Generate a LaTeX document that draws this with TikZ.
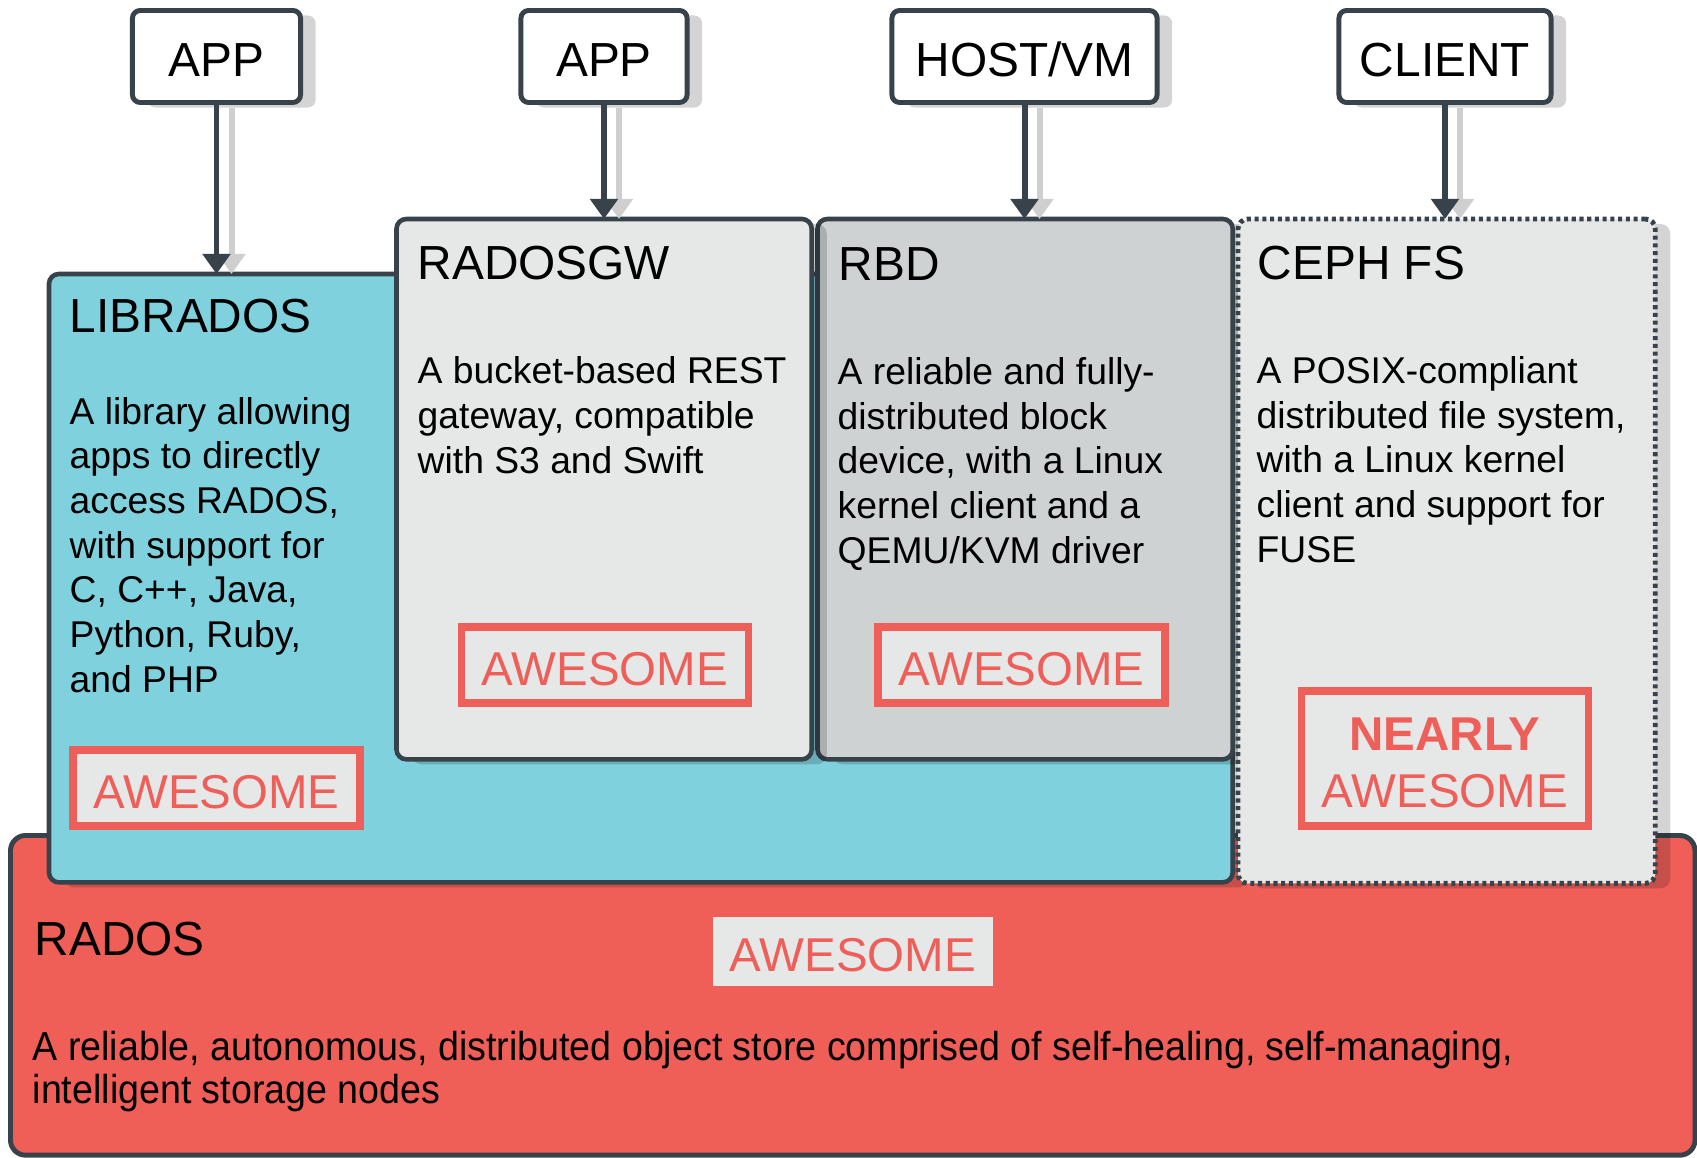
\documentclass[tikz,border=0pt]{standalone}
\usepackage{fontspec}
\setmainfont{Liberation Sans}
\newfontfamily\narrowfont[FakeStretch=0.93]{Liberation Sans}
\usetikzlibrary{positioning, shadows, arrows.meta}

\definecolor{edgedark}{HTML}{38424B}
\definecolor{libcyan}{HTML}{7FD2DD}
\definecolor{paleg}{HTML}{E6E7E7}
\definecolor{rbdgray}{HTML}{CED2D3}
\definecolor{radosred}{HTML}{F05E58}
\definecolor{okred}{HTML}{EF5F59}
\definecolor{shadowg}{HTML}{CFCFCF}

\begin{document}
\begin{tikzpicture}[
    x=0.01cm, y=-0.01cm,
    softshadow/.style={drop shadow={shadow xshift=0.15cm, shadow yshift=-0.05cm, fill=black, opacity=0.17}},
    layer/.style={rectangle, draw=edgedark, line width=1.3pt, rounded corners=2.8pt, outer sep=0pt, inner sep=0pt, anchor=north west},
    entry/.style={rectangle, draw=edgedark, line width=1.4pt, fill=white, rounded corners=2.2pt, minimum height=0.92cm, outer sep=0pt, text height=11.2pt, text depth=0pt, font=\fontsize{13.6pt}{16pt}\selectfont, softshadow},
    title/.style={anchor=base west, inner sep=0pt, font=\fontsize{13.6pt}{16pt}\selectfont},
    body/.style={anchor=base west, inner sep=0pt, align=left, font=\fontsize{10.6pt}{12.7pt}\selectfont},
    redword/.style={rectangle, fill=paleg, text=okred, text height=11.4pt, text depth=0pt, font=\fontsize{13.5pt}{16.2pt}\selectfont},
    verdict/.style={redword, draw=okred, line width=2.1pt, minimum width=2.87cm, minimum height=0.76cm},
    flow/.style={draw=edgedark, line width=1.7pt, -{Triangle[width=7.7pt,length=5.7pt]}},
    flowshadow/.style={draw=shadowg, line width=1.7pt, -{Triangle[width=7.7pt,length=5.7pt]}}
]
\useasboundingbox (0,0) rectangle (1697,1158);

% storage layers
\node[layer, fill=radosred, rounded corners=4.3pt, line width=1.4pt, minimum width=16.835cm, minimum height=3.195cm] (rados) at (10.5,835.5) {};
\node[layer, fill=libcyan, softshadow, minimum width=11.83cm, minimum height=6.08cm] (librados) at (49,274) {};
\node[layer, fill=rbdgray, softshadow, minimum width=4.15cm, minimum height=5.40cm] (rbd) at (817.5,219) {};
\node[layer, fill=paleg, softshadow, minimum width=4.15cm, minimum height=5.40cm] (radosgw) at (396.5,219) {};
\node[layer, fill=paleg, softshadow, dash pattern=on 1.15pt off 1.05pt, line width=1.4pt, minimum width=4.17cm, minimum height=6.64cm] (cephfs) at (1238,219) {};

% librados
\node[title] (libtitle) at (69,333) {LIBRADOS};
\node[body] (libtext) at (69,692) {A library allowing\\apps to directly\\access RADOS,\\with support for\\C, C++, Java,\\Python, Ruby,\\and PHP};
\node[verdict] (libok) at (216.5,788) {AWESOME};

% radosgw
\node[title] (gwtitle) at (417,280) {RADOSGW};
\node[body] (gwtext) at (417,473) {A bucket-based REST\\gateway, compatible\\with S3 and Swift};
\node[verdict] (gwok) at (605,665) {AWESOME};

% rbd
\node[title] (rbdtitle) at (838,281) {RBD};
\node[body] (rbdtext) at (837,563) {A reliable and fully-\\distributed block\\device, with a Linux\\kernel client and a\\QEMU/KVM driver};
\node[verdict] (rbdok) at (1021.5,665) {AWESOME};

% ceph fs
\node[title] (fstitle) at (1257,280) {CEPH FS};
\node[body] (fstext) at (1256,562) {A POSIX-compliant\\distributed file system,\\with a Linux kernel\\client and support for\\FUSE};
\node[verdict, minimum height=1.35cm, align=center, text height=27.6pt] (fsok) at (1445,758.5) {\textbf{NEARLY}\\AWESOME};

% rados
\node[title] (radostitle) at (34,955) {RADOS};
\node[redword, minimum width=2.8cm, minimum height=0.69cm] (radosok) at (853,951.5) {AWESOME};
\node[body, font=\narrowfont\fontsize{11.5pt}{12.2pt}\selectfont] (radostext) at (32,1103) {A reliable, autonomous, distributed object store comprised of self-healing, self-managing,\\intelligent storage nodes};

% clients on top
\node[entry, minimum width=1.68cm] (app1) at (216.5,56.5) {APP};
\node[entry, minimum width=1.66cm] (app2) at (604,56.5) {APP};
\node[entry, minimum width=2.65cm] (host) at (1024.5,56.5) {HOST/VM};
\node[entry, minimum width=2.12cm] (client) at (1445,56.5) {CLIENT};

\foreach \src/\dst in {app1/librados, app2/radosgw, host/rbd, client/cephfs} {
    \coordinate (\src-in) at (\src.south |- \dst.north);
    \draw[flowshadow] ([shift={(0.15cm,-0.05cm)}]\src.south) -- ([xshift=0.15cm]\src-in);
    \draw[flow] (\src.south) -- (\src-in);
}

\end{tikzpicture}
\end{document}
